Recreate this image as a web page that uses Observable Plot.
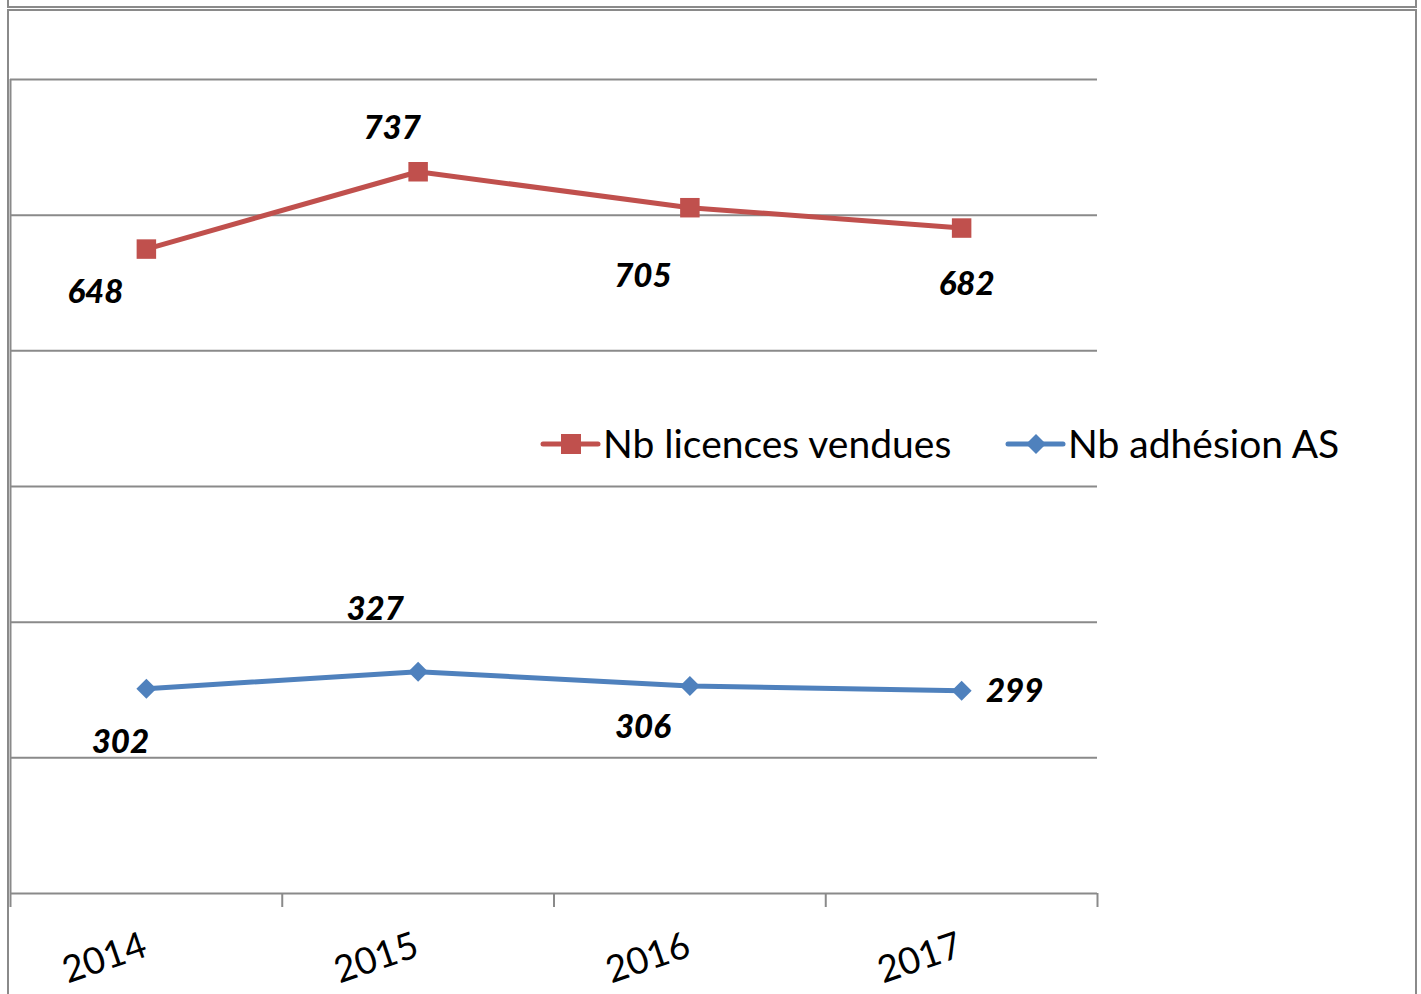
<!DOCTYPE html>
<html>
<head>
<meta charset="utf-8">
<script src="https://cdn.jsdelivr.net/npm/d3@7"></script>
<script src="https://cdn.jsdelivr.net/npm/@observablehq/plot@0.6"></script>
<style>
  html, body { margin: 0; padding: 0; background: #fff; overflow: hidden; }
  #wrap { position: relative; width: 1421px; height: 994px; }
  #chart { position: absolute; left: 0; top: 0; }
  .frame { position: absolute; box-sizing: border-box; border: 2px solid #8a8a8a; pointer-events: none; }
  #legend { position: absolute; left: 0; top: 0; pointer-events: none; }
</style>
</head>
<body>
<div id="wrap">
  <div id="chart"></div>
  <div class="frame" style="left:7px; top:-12px; width:1410px; height:20px;"></div>
  <div class="frame" style="left:7px; top:9px; width:1410px; height:1000px;"></div>
  <svg id="legend" width="1421" height="994"></svg>
</div>
<script>
// ---- Data ----
const years = ["2014", "2015", "2016", "2017"];
const licences = [648, 737, 705, 682];      // Nb licences vendues (stacked on top)
const adhesions = [302, 327, 306, 299];     // Nb adhésion AS (bottom)
const seriesNames = ["Nb licences vendues", "Nb adhésion AS"];
const seriesColors = ["#C0504D", "#4F81BD"];
const gridValues = [0, 200, 400, 600, 800, 1000, 1200];

// label offsets (layout only)
const licLabelDx = [-51, -26, -47, 5];
const licLabelDy = [43, -43, 69, 56];
const adhLabelDx = [-26, -43, -47, 53];
const adhLabelDy = [54, -62, 42, 1];

// ---- Build stacked rows ----
const adhRows = years.map((yr, i) => ({series: seriesNames[1], year: yr, xp: i + 0.5, value: adhesions[i], top: adhesions[i], dx: adhLabelDx[i], dy: adhLabelDy[i]}));
const licRows = years.map((yr, i) => ({series: seriesNames[0], year: yr, xp: i + 0.5, value: licences[i], top: adhesions[i] + licences[i], dx: licLabelDx[i], dy: licLabelDy[i]}));
const allRows = [...adhRows, ...licRows];

const gridColor = "#8a8a8a";
const labelMarks = allRows.map(r => Plot.text([r], {
  x: "xp", y: "top", text: d => String(d.value), dx: r.dx, dy: r.dy,
  fontSize: 33, fontWeight: 900, fontStyle: "italic", fill: "#000"
}));

const chart = Plot.plot({
  width: 1421,
  height: 994,
  marginLeft: 10,
  marginRight: 324,
  marginTop: 79,
  marginBottom: 101,
  x: {type: "linear", domain: [0, years.length], axis: null},
  y: {domain: [0, 1200], axis: null},
  color: {domain: seriesNames, range: seriesColors},
  style: {fontFamily: "Lato, 'Open Sans', sans-serif", background: "transparent", overflow: "visible"},
  marks: [
    Plot.ruleY(gridValues, {stroke: gridColor, strokeWidth: 2}),
    Plot.ruleX([0], {stroke: gridColor, strokeWidth: 2}),
    Plot.ruleX(d3.range(years.length + 1), {x: d => d, y1: 0, insetBottom: -14, stroke: gridColor, strokeWidth: 2}),
    Plot.text(years, {x: (d, i) => i + 0.5, text: d => d, frameAnchor: "bottom", dx: -38, dy: 76, rotate: -19, fontSize: 37, fill: "#000"}),
    Plot.line(allRows, {x: "xp", y: "top", z: "series", stroke: "series", strokeWidth: 5, strokeLinejoin: "round"}),
    Plot.dot(licRows, {x: "xp", y: "top", symbol: d3.symbolSquare, r: 11, fill: seriesColors[0], stroke: "none"}),
    Plot.dot(adhRows, {x: "xp", y: "top", symbol: d3.symbolDiamond2, r: 9, fill: seriesColors[1], stroke: "none"}),
    ...labelMarks
  ]
});
document.getElementById("chart").appendChild(chart);

// ---- Legend ----
const legend = d3.select("#legend");
const legendItems = [
  {name: seriesNames[0], color: seriesColors[0], x: 543, shape: "square"},
  {name: seriesNames[1], color: seriesColors[1], x: 1008, shape: "diamond"}
];
const ly = 444;
legendItems.forEach(it => {
  const g = legend.append("g");
  g.append("line").attr("x1", it.x).attr("x2", it.x + 55).attr("y1", ly).attr("y2", ly)
    .attr("stroke", it.color).attr("stroke-width", 5).attr("stroke-linecap", "round");
  const cx = it.x + 28;
  if (it.shape === "square") {
    g.append("rect").attr("x", cx - 10).attr("y", ly - 10).attr("width", 20).attr("height", 20).attr("fill", it.color);
  } else {
    g.append("path").attr("d", `M${cx},${ly - 10}L${cx + 10},${ly}L${cx},${ly + 10}L${cx - 10},${ly}Z`).attr("fill", it.color);
  }
  g.append("text").attr("x", it.x + 60).attr("y", ly + 14)
    .attr("font-family", "Lato, 'Open Sans', sans-serif").attr("font-size", 39).attr("fill", "#000")
    .text(it.name);
});
</script>
</body>
</html>
